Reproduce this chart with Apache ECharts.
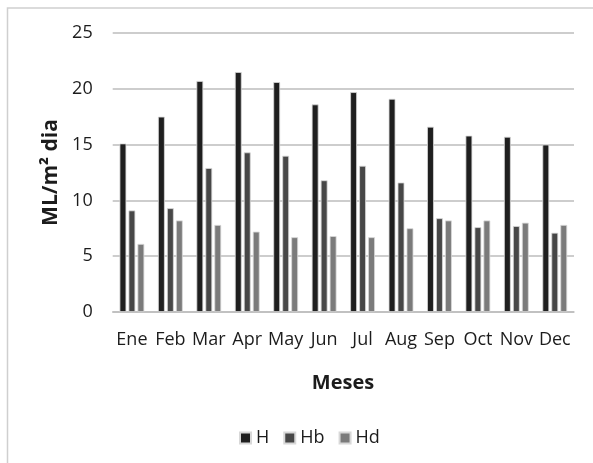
<!DOCTYPE html>
<html>
<head>
<meta charset="utf-8">
<script src="https://cdn.jsdelivr.net/npm/echarts@6/dist/echarts.min.js"></script>
<style>
  html, body { margin: 0; padding: 0; background: #ffffff; }
  #chart { width: 593px; height: 463px; }
</style>
</head>
<body>
<div id="chart"></div>
<script>
// Monthly values (ML/m² dia)
const months = ['Ene', 'Feb', 'Mar', 'Apr', 'May', 'Jun', 'Jul', 'Aug', 'Sep', 'Oct', 'Nov', 'Dec'];
const seriesH  = [15.1, 17.5, 20.7, 21.5, 20.6, 18.6, 19.7, 19.1, 16.6, 15.8, 15.7, 15.0];
const seriesHb = [9.1, 9.3, 12.9, 14.3, 14.0, 11.8, 13.1, 11.6, 8.4, 7.6, 7.7, 7.1];
const seriesHd = [6.1, 8.2, 7.8, 7.2, 6.7, 6.8, 6.7, 7.5, 8.2, 8.2, 8.0, 7.8];
const yTicks = { min: 0, max: 25, interval: 5 };

const FONT = '"Open Sans", "Liberation Sans", sans-serif';
const TEXT = '#1c1c1c';

const chart = echarts.init(document.getElementById('chart'), null, { renderer: 'canvas' });

function bar(name, data, color) {
  return {
    name: name,
    type: 'bar',
    data: data,
    barWidth: 6.8,
    barGap: '32%',
    itemStyle: { color: color, borderColor: '#d8d8d8', borderWidth: 0.8 },
    emphasis: { disabled: true }
  };
}

chart.setOption({
  animation: false,
  backgroundColor: '#ffffff',
  textStyle: { fontFamily: FONT },
  grid: { left: 112.7, right: 19, top: 33, bottom: 151, containLabel: false },
  xAxis: {
    type: 'category',
    data: months,
    axisTick: { show: false },
    axisLine: { show: true, lineStyle: { color: '#bdbdbd', width: 1.5 } },
    axisLabel: { color: TEXT, fontSize: 18, fontFamily: FONT, margin: 19, interval: 0 }
  },
  yAxis: {
    type: 'value',
    min: yTicks.min,
    max: yTicks.max,
    interval: yTicks.interval,
    name: 'ML/m² dia',
    nameLocation: 'middle',
    nameGap: 47,
    nameTextStyle: { color: TEXT, fontSize: 21, fontWeight: 'bold', fontFamily: FONT },
    axisLine: { show: false },
    axisTick: { show: false },
    axisLabel: { color: TEXT, fontSize: 18, fontFamily: FONT, margin: 20 },
    splitLine: { lineStyle: { color: '#bdbdbd', width: 1.5 } }
  },
  legend: {
    data: ['H', 'Hb', 'Hd'],
    left: 234,
    top: 424,
    itemWidth: 11,
    itemHeight: 11,
    itemGap: 14,
    icon: 'rect',
    textStyle: { color: TEXT, fontSize: 18, fontFamily: FONT, padding: [0, 0, 0, 0] }
  },
  graphic: [
    {
      type: 'rect',
      shape: { x: 7.5, y: 8, width: 700, height: 600 },
      style: { fill: 'none', stroke: '#cfcfcf', lineWidth: 1.5 },
      silent: true
    },
    {
      type: 'text',
      x: 343,
      y: 383,
      style: {
        text: 'Meses', fill: TEXT, font: 'bold 20px ' + FONT,
        textAlign: 'center', textVerticalAlign: 'middle'
      },
      silent: true
    }
  ],
  series: [
    bar('H', seriesH, '#1f1f1f'),
    bar('Hb', seriesHb, '#474747'),
    bar('Hd', seriesHd, '#7b7b7b')
  ]
});
</script>
</body>
</html>
